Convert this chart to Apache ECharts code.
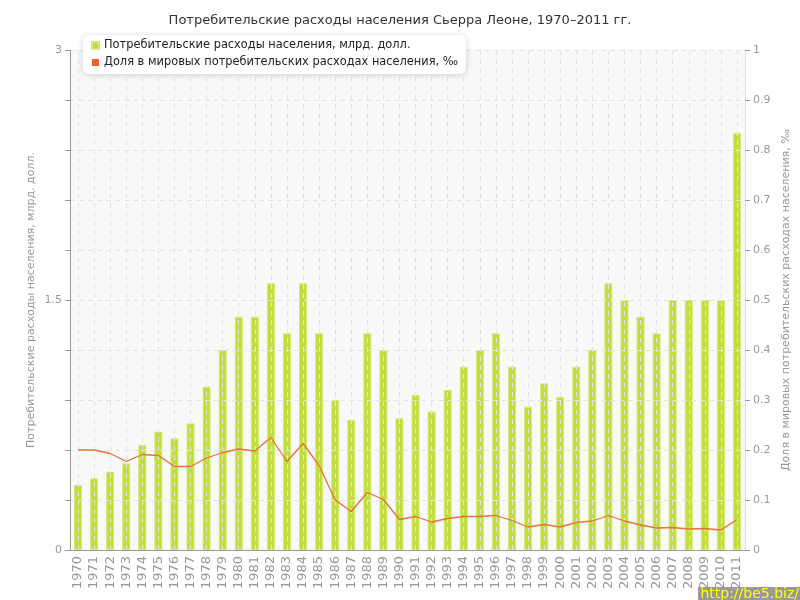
<!DOCTYPE html>
<html><head><meta charset="utf-8">
<script src="https://cdn.jsdelivr.net/npm/echarts@6/dist/echarts.min.js"></script>
<style>html,body{margin:0;padding:0;background:#fff}#c{width:800px;height:600px}</style>
</head><body><div id="c"></div>
<script>
const years = ['1970','1971','1972','1973','1974','1975','1976','1977','1978','1979','1980','1981','1982','1983','1984','1985','1986','1987','1988','1989','1990','1991','1992','1993','1994','1995','1996','1997','1998','1999','2000','2001','2002','2003','2004','2005','2006','2007','2008','2009','2010','2011'];
const spending = [0.39,0.43,0.47,0.52,0.63,0.71,0.67,0.76,0.98,1.2,1.4,1.4,1.6,1.3,1.6,1.3,0.9,0.78,1.3,1.2,0.79,0.93,0.83,0.96,1.1,1.2,1.3,1.1,0.86,1.0,0.92,1.1,1.2,1.6,1.5,1.4,1.3,1.5,1.5,1.5,1.5,2.5];
const share = [0.200,0.200,0.193,0.177,0.191,0.189,0.167,0.167,0.184,0.195,0.202,0.198,0.225,0.177,0.213,0.169,0.100,0.077,0.115,0.101,0.061,0.067,0.056,0.063,0.067,0.067,0.069,0.059,0.046,0.051,0.046,0.055,0.058,0.069,0.058,0.050,0.044,0.045,0.042,0.043,0.040,0.061];
const titleText = 'Потребительские расходы населения Сьерра Леоне, 1970–2011 гг.';
const seriesNames = ['Потребительские расходы населения, млрд. долл.', 'Доля в мировых потребительских расходах населения, ‰'];
const leftAxisName = 'Потребительские расходы населения, млрд. долл.';
const rightAxisName = 'Доля в мировых потребительских расходах населения, ‰';

const chart = echarts.init(document.getElementById('c'), null, {renderer:'canvas'});
const F = 'DejaVu Sans';
const gridLine = {show: true, lineStyle: {type: [5, 4], color: '#e4e4e4'}};
chart.setOption({
  animation: false,
  textStyle: {fontFamily: F},
  title: {text: titleText, left: 'center', top: 9, textStyle: {fontSize: 13, fontWeight: 'normal', color: '#333', fontFamily: F}},
  legend: {
    orient: 'vertical', left: 83, top: 35,
    backgroundColor: '#fff', borderRadius: 6, padding: [5, 8, 6, 8],
    shadowBlur: 6, shadowColor: 'rgba(0,0,0,0.18)', shadowOffsetY: 1,
    itemWidth: 7, itemHeight: 7, itemGap: 6, icon: 'rect',
    textStyle: {fontSize: 11.4, color: '#222', fontFamily: F},
    data: seriesNames
  },
  grid: {left: 70, right: 50, top: 50, bottom: 50, show: true, backgroundColor: '#f9f9f9', borderWidth: 0},
  xAxis: {
    type: 'category', data: years, z: 3,
    axisLine: {lineStyle: {color: '#999'}},
    axisTick: {alignWithLabel: true, length: 5, lineStyle: {color: '#999'}},
    axisLabel: {rotate: 90, fontSize: 13, color: '#999', margin: 6, interval: 0},
    splitLine: {show: true, alignWithLabel: true, lineStyle: {type: [5, 4], color: '#e4e4e4'}}
  },
  yAxis: [{
    type: 'value', min: 0, max: 3, interval: 0.3, z: 3,
    name: leftAxisName, nameLocation: 'middle', nameGap: 33, nameRotate: 90, nameMoveOverlap: false,
    nameTextStyle: {fontSize: 11, color: '#999'},
    axisLine: {show: true, lineStyle: {color: '#999'}},
    axisTick: {show: true, length: 5, lineStyle: {color: '#999'}},
    axisLabel: {fontSize: 11, color: '#999', margin: 8, formatter: function (v) {
      if (Math.abs(v) < 1e-6) return '0';
      if (Math.abs(v - 1.5) < 1e-6) return '1.5';
      if (Math.abs(v - 3) < 1e-6) return '3';
      return '';
    }},
    splitLine: gridLine
  }, {
    type: 'value', min: 0, max: 1, interval: 0.1, position: 'right',
    name: rightAxisName, nameLocation: 'middle', nameGap: 36, nameRotate: 90, nameMoveOverlap: false,
    nameTextStyle: {fontSize: 11, color: '#999'},
    axisLine: {show: true, lineStyle: {color: '#ddd'}},
    axisTick: {show: true, length: 5, lineStyle: {color: '#999'}},
    axisLabel: {fontSize: 11, color: '#999', margin: 8, formatter: function (v) { return String(Math.round(v * 10) / 10); }},
    splitLine: {show: false}
  }],
  series: [{
    name: seriesNames[0], type: 'bar', data: spending, yAxisIndex: 0, barWidth: 8,
    itemStyle: {color: '#c2de3c', borderColor: '#d4e97c', borderWidth: 1}
  }, {
    name: seriesNames[1], type: 'line', data: share, yAxisIndex: 1, showSymbol: false, symbol: 'none',
    lineStyle: {color: '#e8703c', width: 1.3}, itemStyle: {color: '#e8622c'}, z: 5
  }],
  graphic: [{
    type: 'rect', right: 0, bottom: 0, shape: {width: 102, height: 13}, style: {fill: '#999'}, z: 100
  }, {
    type: 'text', right: 1, bottom: -1, z: 101,
    style: {text: 'http://be5.biz/', fill: '#ff0', font: '14px "DejaVu Sans"'}
  }]
});
</script></body></html>
